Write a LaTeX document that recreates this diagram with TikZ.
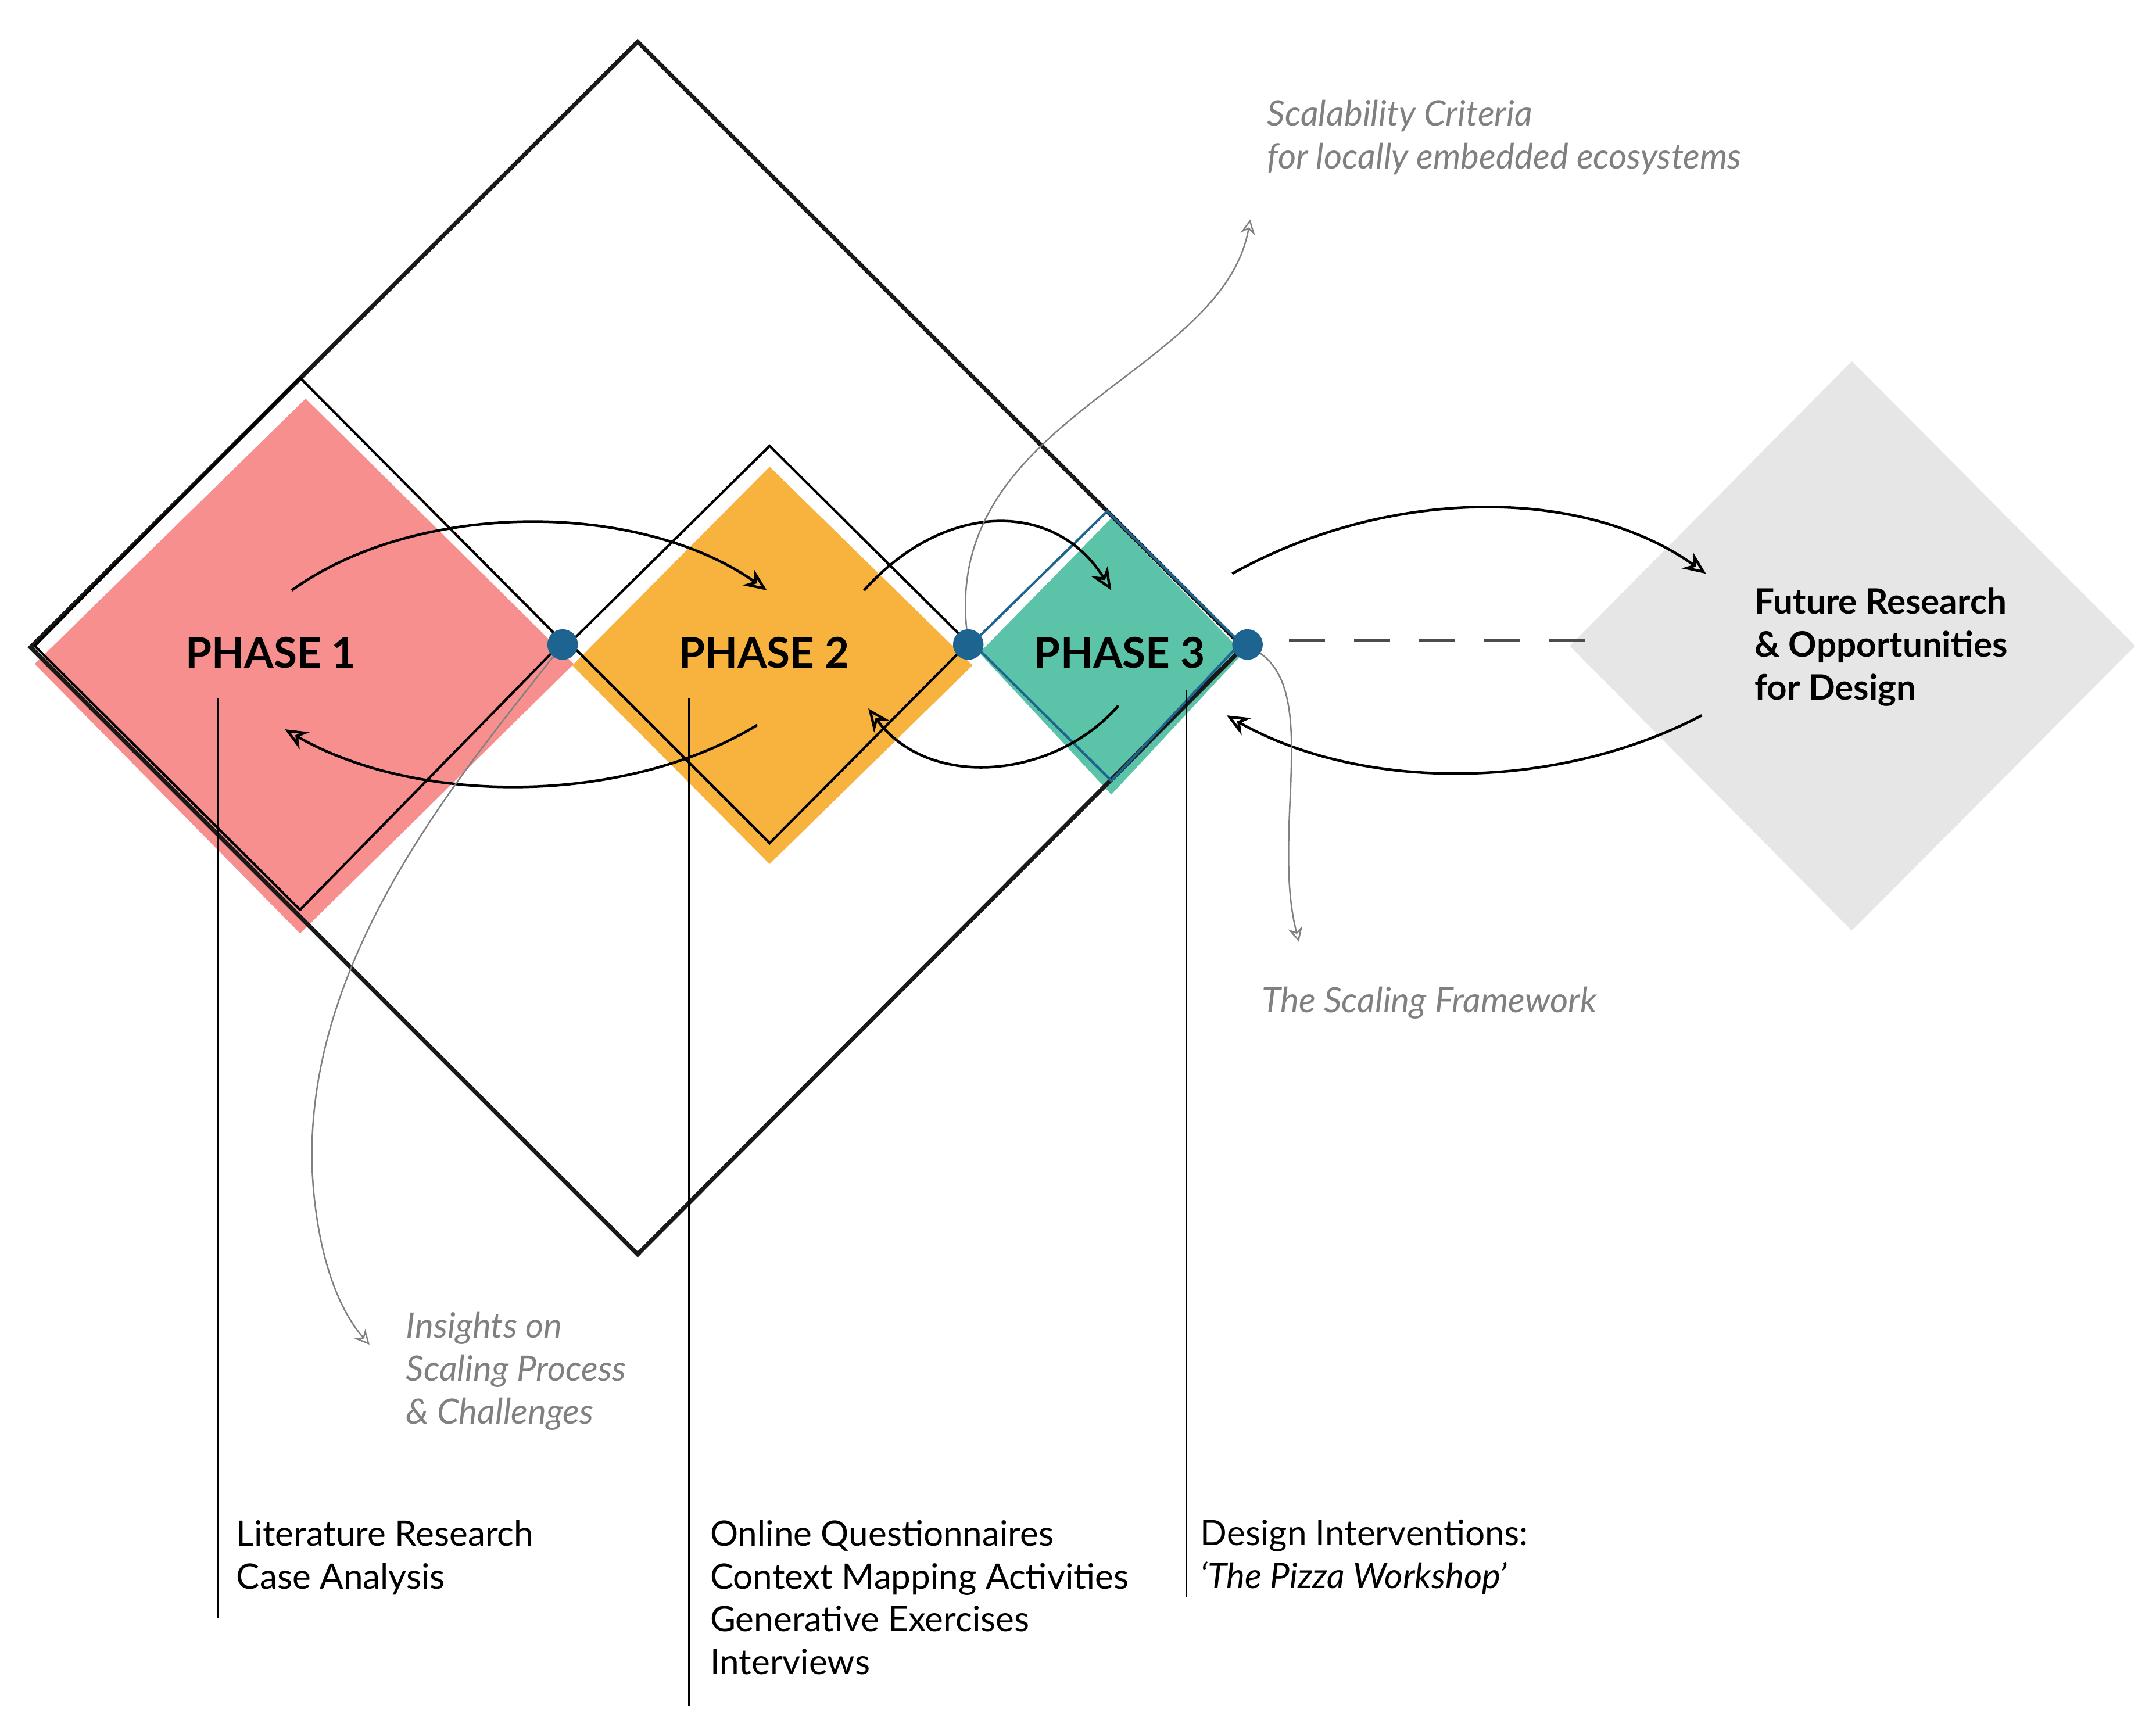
\documentclass[tikz,border=0pt]{standalone}
\usepackage{fontspec}
\setmainfont{Lato}
\usetikzlibrary{arrows.meta}
\begin{document}
\begin{tikzpicture}[x=0.03cm,y=-0.03cm,
  lbl/.style={font=\fontsize{21.5}{26.4}\selectfont,align=left,anchor=west,inner sep=0},
  glbl/.style={lbl,text=gtxt,font=\fontsize{21.5}{26.4}\selectfont\itshape},
  phase/.style={font=\fontsize{26}{30}\selectfont\bfseries,inner sep=0},
  arr/.style={-{Stealth[length=14pt,width=12pt,open]},line width=1.6pt,black},
  garr/.style={-{Stealth[length=9pt,width=9pt,open]},line width=0.9pt,gtxt},
  dot/.style={circle,fill=dotc,inner sep=0,minimum size=22*0.03cm}]
\definecolor{pinkc}{HTML}{F88F8F}
\definecolor{orc}{HTML}{F7B33D}
\definecolor{tealc}{HTML}{5BC3A8}
\definecolor{greyc}{HTML}{E6E6E6}
\definecolor{dotc}{HTML}{1D6490}
\definecolor{gtxt}{HTML}{808080}
\useasboundingbox (0,0) rectangle (1552,1238);
% fills
\fill[pinkc] (220,287) -- (413,478) -- (216,672) -- (25,478) -- cycle;
\fill[orc] (554,336) -- (700,479) -- (554,622) -- (412,479) -- cycle;
\fill[tealc] (800,373) -- (895,470) -- (800,572) -- (705,470) -- cycle;
\fill[greyc] (1333,260) -- (1537,465) -- (1333,670) -- (1130,465) -- cycle;
% outlines
\draw[line width=2.6pt,black!90] (459,30) -- (895,466) -- (459,903) -- (22,466) -- cycle;
\draw[line width=1.5pt] (216,272) -- (405,462) -- (216,655) -- (25,465) -- cycle;
\draw[line width=1.5pt] (554,321) -- (697,463) -- (554,607) -- (410,463) -- cycle;
\draw[line width=1.5pt,dotc] (797,368) -- (893,463) -- (800,562) -- (700,463) -- cycle;
% dashed
\coordinate (ds) at (928,461); \coordinate (de) at (1150,461);
\draw[line width=1.5pt,black!70,dash pattern=on 22pt off 18pt] (ds) -- (de);
% dots
\node[dot] (d1) at (405,464) {};
\node[dot] (d2) at (697,464) {};
\node[dot] (d3) at (898,464) {};
% black arrows
\draw[arr] (210,425) .. controls (300,360) and (460,360) .. (552,425);
\draw[arr] (545,522) .. controls (450,580) and (300,580) .. (205,525);
\draw[arr] (622,425) .. controls (680,360) and (760,360) .. (800,425);
\draw[arr] (805,508) .. controls (760,560) and (670,570) .. (625,510);
\draw[arr] (887,413) .. controls (1000,350) and (1140,350) .. (1228,413);
\draw[arr] (1225,515) .. controls (1120,570) and (980,570) .. (883,515);
% gray arrows
\draw[garr] (d2) .. controls (680,300) and (880,270) .. (900,158);
\draw[garr] (d1) .. controls (330,560) and (210,700) .. (226,860) .. controls (232,920) and (250,950) .. (266,968);
\draw[garr] (d3) .. controls (950,500) and (915,600) .. (935,678);
% vertical lines
\draw[line width=0.9pt] (157,503) -- (157,1165);
\draw[line width=0.9pt] (496,503) -- (496,1228);
\draw[line width=0.9pt] (854,497) -- (854,1150);
% texts
\node[phase] (p1) at (195,470) {PHASE 1};
\node[phase] (p2) at (550,470) {PHASE 2};
\node[phase] (p3) at (806,470) {PHASE 3};
\node[lbl,font=\fontsize{21.5}{26.4}\selectfont\bfseries] (fr) at (1263,466) {Future Research\\\& Opportunities\\for Design};
\node[glbl] (sc) at (912,99) {Scalability Criteria\\for locally embedded ecosystems};
\node[glbl] (sf) at (908,722) {The Scaling Framework};
\node[glbl] (in) at (292,987) {Insights on\\Scaling Process\\\& Challenges};
\node[lbl,anchor=north west] (t1) at (170,1094) {Literature Research\\Case Analysis};
\node[lbl,anchor=north west] (t2) at (511,1094) {Online Questionnaires\\Context Mapping Activities\\Generative Exercises\\Interviews};
\node[lbl,anchor=north west] (t3) at (864,1094) {Design Interventions:\\\textit{‘The Pizza Workshop’}};
\end{tikzpicture}
\end{document}
